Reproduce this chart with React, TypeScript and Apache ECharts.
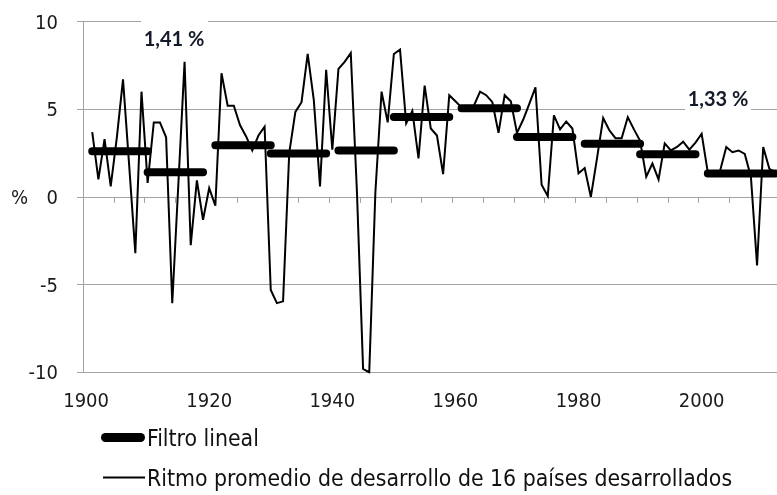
import React, { useEffect, useRef } from 'react';
import * as echarts from 'echarts';

const years: string[] = [];
for (let y = 1900; y <= 2012; y++) years.push(String(y));

// Ritmo promedio de desarrollo (%), 1900..2012 (1900 without value)
const growth: (number | null)[] = [
  null, 3.7, 1.0, 3.3, 0.6, 3.4, 6.7, 1.8, -3.2, 6.0,
  0.8, 4.25, 4.25, 3.4, -6.05, 0.8, 7.7, -2.75, 0.95, -1.3,
  0.5, -0.5, 7.05, 5.2, 5.2, 4.1, 3.45, 2.65, 3.5, 4.0,
  -5.3, -6.05, -5.95, 2.5, 4.85, 5.4, 8.15, 5.5, 0.6, 7.25,
  2.7, 7.3, 7.7, 8.2, 0.3, -9.8, -10.0, 0.3, 6.0, 4.25,
  8.15, 8.4, 4.2, 4.9, 2.2, 6.35, 3.9, 3.5, 1.3, 5.8,
  5.45, 5.1, 5.0, 5.2, 6.0, 5.8, 5.4, 3.65, 5.8, 5.45,
  3.65, 4.4, 5.3, 6.25, 0.7, 0.05, 4.65, 3.85, 4.3, 3.9,
  1.35, 1.65, 0.0, 2.2, 4.5, 3.8, 3.35, 3.35, 4.55, 3.85,
  3.2, 1.15, 1.9, 1.0, 3.05, 2.65, 2.85, 3.15, 2.7, 3.1,
  3.6, 1.4, 1.45, 1.5, 2.85, 2.55, 2.65, 2.45, 1.15, -3.9,
  2.85, 1.6, 1.4,
];

// Filtro lineal: one level per period
const filterStart = [1901, 1910, 1921, 1930, 1941, 1950, 1961, 1970, 1981, 1990, 2001];
const filterEnd = [1910, 1919, 1930, 1939, 1950, 1959, 1970, 1979, 1990, 1999, 2012];
const filterValue = [2.61, 1.41, 2.94, 2.47, 2.65, 4.55, 5.06, 3.41, 3.03, 2.43, 1.33];

const xLabelYears = ['1900', '1920', '1940', '1960', '1980', '2000'];
const annotations = ['1,41 %', '1,33 %'];

const SERIES_LINE = 'Ritmo promedio de desarrollo de 16 países desarrollados';
const SERIES_FILTER = 'Filtro lineal';

const NARROW = '"Liberation Sans Narrow", "Arial Narrow", "DejaVu Sans Condensed", sans-serif';
const GRID = '#a3a3a3';

export default function App() {
  const ref = useRef<HTMLDivElement>(null);
  useEffect(() => {
    if (!ref.current) return;
    const chart = echarts.init(ref.current, undefined, { renderer: 'svg' });

    const filterSeries = filterStart.map((s, i) => ({
      name: SERIES_FILTER,
      type: 'line',
      xAxisIndex: 0,
      z: 5,
      showSymbol: false,
      symbol: 'none',
      data: years.map((y) => {
        const yr = Number(y);
        return yr >= s && yr <= filterEnd[i] ? filterValue[i] : null;
      }),
      lineStyle: { color: '#000', width: 8, cap: 'round' },
      itemStyle: { color: '#000' },
    }));

    chart.setOption({
      animation: false,
      textStyle: { fontFamily: NARROW },
      grid: { left: 83, right: 11.4, top: 21.5, bottom: 122.6, containLabel: false },
      legend: [
        {
          left: 101,
          top: 426,
          padding: 0,
          itemWidth: 44,
          itemHeight: 9,
          selectedMode: false,
          data: [{ name: SERIES_FILTER, icon: 'path://M4.5,0 H39.5 A4.5,4.5 0 0 1 39.5,9 H4.5 A4.5,4.5 0 0 1 4.5,0 Z' }],
          textStyle: { fontFamily: NARROW, fontSize: 22.8, color: '#111', padding: [0, 0, 0, -3] },
        },
        {
          left: 103,
          top: 466,
          padding: 0,
          itemWidth: 42,
          itemHeight: 2,
          selectedMode: false,
          data: [{ name: SERIES_LINE, icon: 'rect' }],
          textStyle: { fontFamily: NARROW, fontSize: 22.8, color: '#111', padding: [0, 0, 0, -3] },
        },
      ],
      xAxis: [
        {
          type: 'category',
          data: years,
          boundaryGap: true,
          position: 'bottom',
          axisLine: { show: false, onZero: false },
          axisTick: { show: false },
          splitLine: { show: false },
          axisLabel: {
            interval: (_i: number, v: string) => xLabelYears.includes(v),
            fontFamily: NARROW,
            fontSize: 20,
            color: '#1a1a1a',
            margin: 18,
          },
        },
        {
          type: 'category',
          data: years,
          boundaryGap: true,
          position: 'bottom',
          axisLine: { show: true, onZero: true, lineStyle: { color: GRID, width: 1 } },
          axisTick: { show: true, interval: 4, length: 6, lineStyle: { color: GRID, width: 1 } },
          axisLabel: { show: false },
          splitLine: { show: false },
        },
      ],
      yAxis: {
        type: 'value',
        min: -10,
        max: 10,
        interval: 5,
        name: '%',
        nameLocation: 'middle',
        nameRotate: 0,
        nameGap: 55,
        nameMoveOverlap: false,
        nameTextStyle: { fontFamily: NARROW, fontSize: 20, color: '#1a1a1a' },
        axisLine: { show: true, lineStyle: { color: GRID, width: 1 } },
        axisTick: { show: true, length: 6, lineStyle: { color: GRID, width: 1 } },
        splitLine: { show: true, lineStyle: { color: GRID, width: 1 } },
        axisLabel: { fontFamily: NARROW, fontSize: 20, color: '#1a1a1a', margin: 25 },
      },
      series: [
        {
          name: SERIES_LINE,
          type: 'line',
          xAxisIndex: 0,
          z: 3,
          showSymbol: false,
          symbol: 'none',
          connectNulls: false,
          data: growth,
          lineStyle: { color: '#000', width: 2, join: 'miter' },
          itemStyle: { color: '#000' },
        },
        ...filterSeries,
      ],
      graphic: [
        { type: 'rect', shape: { x: 141, y: 16, width: 67, height: 34 }, style: { fill: '#fff' }, z: 10 },
        {
          type: 'text', x: 174, y: 38, z: 11,
          style: { text: annotations[0], fontFamily: 'Lato, "Open Sans", sans-serif', fontWeight: 'bold', fontSize: 20, fill: '#141a2a', align: 'center', verticalAlign: 'middle' },
        },
        { type: 'rect', shape: { x: 685, y: 86, width: 66, height: 27 }, style: { fill: '#fff' }, z: 10 },
        {
          type: 'text', x: 718, y: 98, z: 11,
          style: { text: annotations[1], fontFamily: 'Lato, "Open Sans", sans-serif', fontWeight: 'bold', fontSize: 20, fill: '#141a2a', align: 'center', verticalAlign: 'middle' },
        },
      ],
    });
    return () => chart.dispose();
  }, []);
  return <div ref={ref} style={{ position: 'fixed', left: 0, top: 0, width: 790, height: 495 }} />;
}
